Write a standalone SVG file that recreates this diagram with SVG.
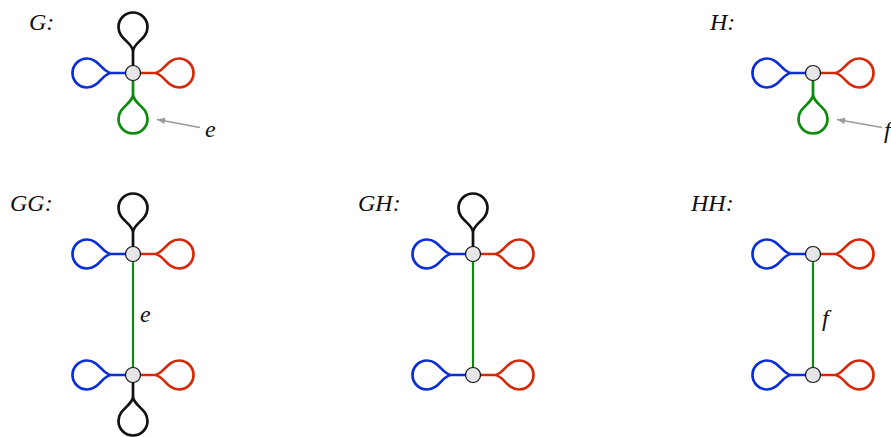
<svg xmlns="http://www.w3.org/2000/svg" width="891" height="437" viewBox="0 0 891 437">
<style>
  .lbl{font-family:"Liberation Serif","Times New Roman",serif;font-style:italic;font-size:24px;fill:#111}
  .lp{fill:none;stroke-width:2.7;stroke-linejoin:round;stroke-linecap:round}
  .k{stroke:#111}
  .b{stroke:#0b2fd4}
  .r{stroke:#d42a0c}
  .g{stroke:#0a8c0a}
  .edge{stroke:#0a8c0a;stroke-width:2.2;fill:none}
  .arr{stroke:#999;stroke-width:1.3;fill:none}
  .nd{fill:#e6e6e6;stroke:#111;stroke-width:1.2}
</style>
<defs>
  <path id="lp" d="M7,0 H22 C31,-1 34,-14.5 46,-14.5 A14.5,14.5 0 0 1 46,14.5 C34,14.5 31,1 22,0"/>
  <marker id="ah" viewBox="0 0 10 10" refX="10" refY="5" markerWidth="10" markerHeight="8" orient="auto" markerUnits="userSpaceOnUse">
    <path d="M0,1 L10,5 L0,9 z" fill="#999"/>
  </marker>
</defs>

<g id="labels">
  <text class="lbl" x="29" y="30">G:</text>
  <text class="lbl" x="710" y="30">H:</text>
  <text class="lbl" x="10" y="211">GG:</text>
  <text class="lbl" x="358" y="211">GH:</text>
  <text class="lbl" x="691" y="211">HH:</text>
  <text class="lbl" x="205" y="137">e</text>
  <text class="lbl" x="884" y="138">f</text>
  <text class="lbl" x="140" y="322">e</text>
  <text class="lbl" x="822" y="326">f</text>
</g>

<g id="connectors">
  <use href="#lp" class="lp k" transform="translate(133,73) rotate(-90)"/>
  <use href="#lp" class="lp b" transform="translate(133,73) rotate(180)"/>
  <use href="#lp" class="lp r" transform="translate(133,73)"/>
  <use href="#lp" class="lp g" transform="translate(133,73) rotate(90)"/>
  <line class="arr" x1="200" y1="127.5" x2="157" y2="119.5" marker-end="url(#ah)"/>
  <use href="#lp" class="lp b" transform="translate(813,73) rotate(180)"/>
  <use href="#lp" class="lp r" transform="translate(813,73)"/>
  <use href="#lp" class="lp g" transform="translate(813,73) rotate(90)"/>
  <line class="arr" x1="882" y1="127.5" x2="837" y2="119.5" marker-end="url(#ah)"/>
  <use href="#lp" class="lp k" transform="translate(133,254) rotate(-90)"/>
  <use href="#lp" class="lp b" transform="translate(133,254) rotate(180)"/>
  <use href="#lp" class="lp r" transform="translate(133,254)"/>
  <use href="#lp" class="lp k" transform="translate(133,375) rotate(90)"/>
  <use href="#lp" class="lp b" transform="translate(133,375) rotate(180)"/>
  <use href="#lp" class="lp r" transform="translate(133,375)"/>
  <line class="edge" x1="133" y1="254" x2="133" y2="375"/>
  <use href="#lp" class="lp k" transform="translate(473,254) rotate(-90)"/>
  <use href="#lp" class="lp b" transform="translate(473,254) rotate(180)"/>
  <use href="#lp" class="lp r" transform="translate(473,254)"/>
  <use href="#lp" class="lp b" transform="translate(473,375) rotate(180)"/>
  <use href="#lp" class="lp r" transform="translate(473,375)"/>
  <line class="edge" x1="473" y1="254" x2="473" y2="375"/>
  <use href="#lp" class="lp b" transform="translate(813,254) rotate(180)"/>
  <use href="#lp" class="lp r" transform="translate(813,254)"/>
  <use href="#lp" class="lp b" transform="translate(813,375) rotate(180)"/>
  <use href="#lp" class="lp r" transform="translate(813,375)"/>
  <line class="edge" x1="813" y1="254" x2="813" y2="375"/>
</g>

<g id="G-v"><circle class="nd" cx="133" cy="73" r="7.5"/></g>
<g id="H-v"><circle class="nd" cx="813" cy="73" r="7.5"/></g>
<g id="GG-v1"><circle class="nd" cx="133" cy="254" r="7.5"/></g>
<g id="GG-v2"><circle class="nd" cx="133" cy="375" r="7.5"/></g>
<g id="GH-v1"><circle class="nd" cx="473" cy="254" r="7.5"/></g>
<g id="GH-v2"><circle class="nd" cx="473" cy="375" r="7.5"/></g>
<g id="HH-v1"><circle class="nd" cx="813" cy="254" r="7.5"/></g>
<g id="HH-v2"><circle class="nd" cx="813" cy="375" r="7.5"/></g>
</svg>
